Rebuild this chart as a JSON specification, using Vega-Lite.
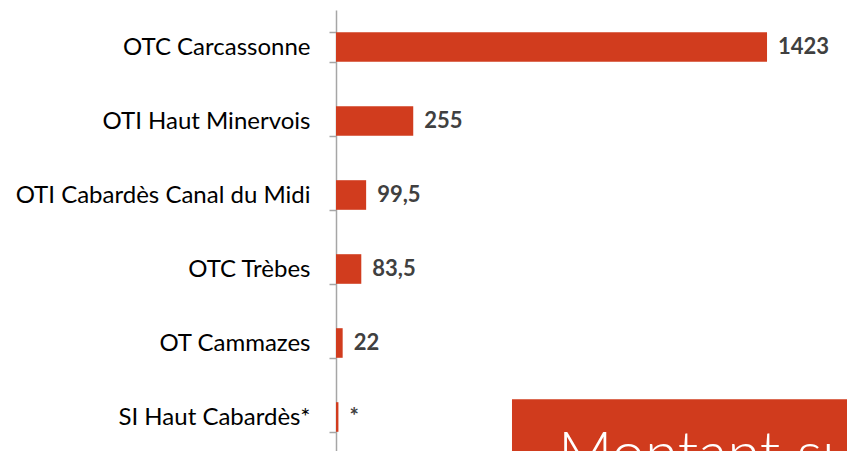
{
  "$schema": "https://vega.github.io/schema/vega-lite/v6.json",
  "autosize": {"type": "none"},
  "padding": {"left": 336, "top": 10, "right": 0, "bottom": 0},
  "width": 511,
  "height": 444,
  "background": "white",
  "config": {"view": {"stroke": null}},
  "layer": [
    {
      "data": {"values": [
        {"structure": "OTC Carcassonne", "montant": 1423, "label": "1423"},
        {"structure": "OTI Haut Minervois", "montant": 255, "label": "255"},
        {"structure": "OTI Cabardès Canal du Midi", "montant": 99.5, "label": "99,5"},
        {"structure": "OTC Trèbes", "montant": 83.5, "label": "83,5"},
        {"structure": "OT Cammazes", "montant": 22, "label": "22"},
        {"structure": "SI Haut Cabardès*", "montant": 8, "label": "*"}
      ]},
      "encoding": {
        "y": {
          "field": "structure", "type": "nominal", "sort": null,
          "scale": {"paddingInner": 0.6, "paddingOuter": 0.3},
          "axis": {
            "title": null, "tickBand": "extent", "domainColor": "#a6a6a6", "domainWidth": 1.5,
            "tickColor": "#a6a6a6", "tickWidth": 1.5, "tickSize": 7, "labelPadding": 19,
            "labelFont": "Lato", "labelFontSize": 24, "labelColor": "#000000", "labelLimit": 400
          }
        },
        "x": {
          "field": "montant", "type": "quantitative",
          "scale": {"domain": [0, 1687], "nice": false, "zero": true},
          "axis": null
        }
      },
      "layer": [
        {"mark": {"type": "bar", "color": "#D13C1E"}},
        {"mark": {"type": "text", "align": "left", "baseline": "middle", "dx": 11, "font": "Lato", "fontSize": 22, "fontWeight": "bold", "color": "#404040"},
         "encoding": {"text": {"field": "label"}}}
      ]
    },
    {
      "data": {"values": [{"x1": 581, "x2": 1687, "y1": 5.26, "y2": 6.2, "tx": 733, "ty": 6.27, "titre": "Montant subventions"}]},
      "encoding": {
        "x": {"field": "x1", "type": "quantitative", "scale": {"domain": [0, 1687], "nice": false}, "axis": null},
        "y": {"field": "y1", "type": "quantitative", "scale": {"domain": [0, 6], "reverse": true, "nice": false, "zero": false}, "axis": null}
      },
      "layer": [
        {"mark": {"type": "rect", "color": "#D03B1D"},
         "encoding": {"x2": {"field": "x2"}, "y2": {"field": "y2"}}},
        {"mark": {"type": "text", "align": "left", "baseline": "alphabetic", "font": "Lato", "fontWeight": 300, "fontSize": 60, "color": "white"},
         "encoding": {
           "x": {"field": "tx", "type": "quantitative"},
           "y": {"field": "ty", "type": "quantitative"},
           "text": {"field": "titre"}}}
      ]
    }
  ],
  "resolve": {"scale": {"y": "independent"}}
}
